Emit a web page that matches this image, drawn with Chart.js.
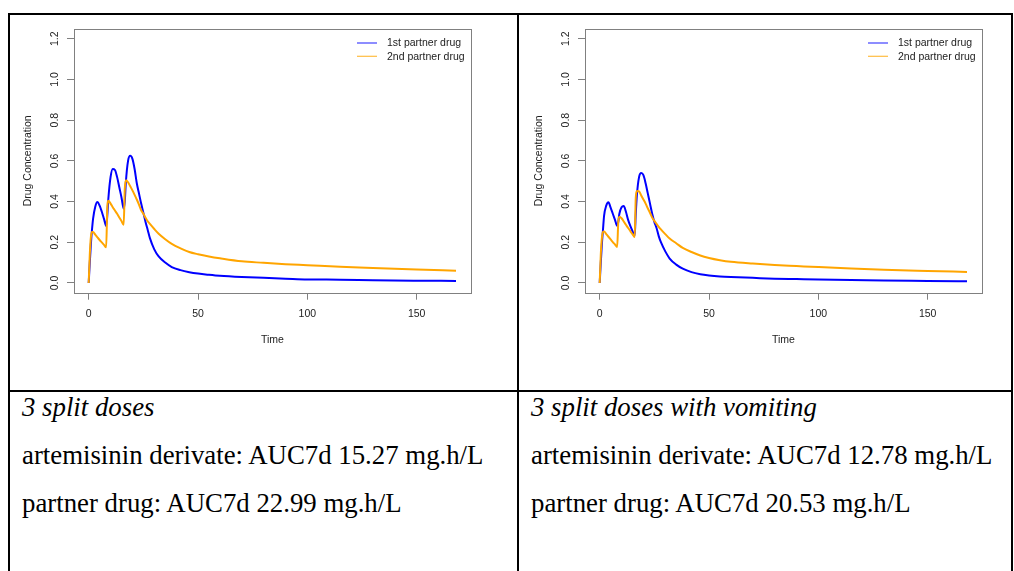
<!DOCTYPE html>
<html><head><meta charset="utf-8">
<script src="https://cdn.jsdelivr.net/npm/chart.js@4.4.0/dist/chart.umd.min.js"></script>
<style>
html,body{margin:0;padding:0;background:#fff;width:1014px;height:571px;overflow:hidden;position:relative;}
.b{position:absolute;background:#000;}
canvas{position:absolute;}
.t{position:absolute;font-family:"Liberation Serif","Times New Roman",serif;font-size:26.8px;line-height:26.8px;color:#000;white-space:nowrap;}
.i{font-style:italic;}
</style></head><body>
<canvas id="c1" width="506" height="375" style="left:10px;top:15px"></canvas>
<canvas id="c2" width="506" height="375" style="left:521px;top:15px"></canvas>
<div class="b" style="left:8px;top:13px;width:1005px;height:2px"></div>
<div class="b" style="left:8px;top:13px;width:2px;height:558px"></div>
<div class="b" style="left:1011px;top:13px;width:2px;height:558px"></div>
<div class="b" style="left:517px;top:13px;width:2px;height:558px"></div>
<div class="b" style="left:8px;top:390px;width:1005px;height:2px"></div>
<div class="t i" id="cap1" style="left:22px;top:394px"></div>
<div class="t" id="l1a" style="left:22px;top:442px"></div>
<div class="t" id="l1b" style="left:22px;top:490px"></div>
<div class="t i" id="cap2" style="left:531px;top:394px"></div>
<div class="t" id="l2a" style="left:531px;top:442px"></div>
<div class="t" id="l2b" style="left:531px;top:490px"></div>
<script>
// ---- data ----
const timeHours = [0,0.5,1,1.5,2,3,4,5,6,7,8,8.5,9,10,11,12,13,14,15,16,16.5,17,18,19,20,21,22,23,24,25,26,27,28,30,32,35,38,42,46,50,55,60,70,80,90,100,115,130,150,168];
const splitFirst = [0,0.10,0.19,0.26,0.315,0.375,0.398,0.38,0.35,0.315,0.28,0.33,0.415,0.52,0.56,0.555,0.52,0.47,0.42,0.365,0.40,0.495,0.60,0.625,0.61,0.56,0.49,0.44,0.39,0.345,0.30,0.26,0.22,0.165,0.13,0.10,0.078,0.063,0.053,0.046,0.04,0.035,0.029,0.025,0.021,0.017,0.016,0.013,0.011,0.010];
const splitSecond = [0,0.14,0.225,0.25,0.25,0.237,0.224,0.211,0.199,0.187,0.175,0.37,0.404,0.39,0.372,0.356,0.34,0.322,0.304,0.286,0.46,0.505,0.495,0.475,0.455,0.433,0.41,0.385,0.357,0.34,0.32,0.303,0.29,0.265,0.242,0.215,0.192,0.17,0.152,0.141,0.13,0.121,0.106,0.099,0.092,0.087,0.079,0.074,0.066,0.060];
const vomitFirst = [0,0.10,0.19,0.26,0.33,0.38,0.396,0.37,0.34,0.31,0.28,0.30,0.34,0.372,0.378,0.35,0.31,0.28,0.255,0.232,0.34,0.43,0.52,0.54,0.53,0.49,0.44,0.39,0.34,0.30,0.27,0.23,0.20,0.155,0.12,0.09,0.07,0.053,0.043,0.037,0.032,0.029,0.025,0.021,0.019,0.017,0.015,0.012,0.010,0.008];
const vomitSecond = [0,0.14,0.22,0.25,0.253,0.24,0.227,0.214,0.201,0.189,0.177,0.30,0.325,0.318,0.302,0.286,0.27,0.255,0.24,0.226,0.42,0.452,0.45,0.43,0.41,0.39,0.367,0.345,0.322,0.305,0.29,0.276,0.263,0.24,0.218,0.195,0.172,0.152,0.135,0.123,0.112,0.104,0.095,0.088,0.083,0.078,0.071,0.065,0.059,0.054];
const seriesLabels = ["1st partner drug","2nd partner drug"];
const seriesColors = ["#0000FF","#FFA500"];
const xTickValues = [0,50,100,150];
const xTickLabels = ["0","50","100","150"];
const yTickValues = [0,0.2,0.4,0.6,0.8,1.0,1.2];
const yTickLabels = ["0.0","0.2","0.4","0.6","0.8","1.0","1.2"];
const xTitle = "Time";
const yTitle = "Drug Concentration";
const captions = ["3 split doses","3 split doses with vomiting"];
const line1 = ["artemisinin derivate: AUC7d 15.27 mg.h/L","artemisinin derivate: AUC7d 12.78 mg.h/L"];
const line2 = ["partner drug: AUC7d 22.99 mg.h/L","partner drug: AUC7d 20.53 mg.h/L"];

document.getElementById('cap1').textContent = captions[0];
document.getElementById('cap2').textContent = captions[1];
document.getElementById('l1a').textContent = line1[0];
document.getElementById('l2a').textContent = line1[1];
document.getElementById('l1b').textContent = line2[0];
document.getElementById('l2b').textContent = line2[1];

const FONT = '"Liberation Sans", Arial, sans-serif';
const TXT = '#222';
const AXC = '#808080';

const boxPlugin = {id:'rbox', afterDatasetsDraw(chart){
  const a = chart.chartArea, ctx = chart.ctx;
  ctx.save(); ctx.strokeStyle = AXC; ctx.lineWidth = 1;
  ctx.strokeRect(Math.round(a.left)+0.5, Math.round(a.top)+0.5, Math.round(a.right)-Math.round(a.left), Math.round(a.bottom)-Math.round(a.top));
  ctx.restore();
}};
const yLabelPlugin = {id:'ylab', afterDraw(chart){
  const s = chart.scales.y, ctx = chart.ctx;
  ctx.save(); ctx.font = '10.5px ' + FONT; ctx.fillStyle = TXT; ctx.textAlign = 'center'; ctx.textBaseline = 'middle';
  s.ticks.forEach((t,i)=>{
    const y = s.getPixelForValue(t.value);
    ctx.save(); ctx.translate(chart.chartArea.left - 19, y); ctx.rotate(-Math.PI/2);
    ctx.fillText(yTickLabels[i], 0, 0); ctx.restore();
  });
  ctx.restore();
}};
const legendPlugin = {id:'rleg', afterDraw(chart){
  const a = chart.chartArea, ctx = chart.ctx;
  ctx.save(); ctx.font = '10.5px ' + FONT; ctx.textBaseline = 'middle'; ctx.textAlign = 'left';
  chart.data.datasets.forEach((ds,i)=>{
    const y = a.top + 14 + i*13.3;
    ctx.strokeStyle = ds.borderColor; ctx.globalAlpha = 0.75; ctx.lineWidth = 1.2;
    ctx.beginPath(); ctx.moveTo(a.right-113.7, y); ctx.lineTo(a.right-93.7, y); ctx.stroke();
    ctx.globalAlpha = 1;
    ctx.fillStyle = TXT; ctx.fillText(ds.label, a.right-83.7, y+0.5);
  });
  ctx.restore();
}};

function pts(arr){ return timeHours.map((t,i)=>({x:t, y:arr[i]})); }

function makeChart(id, first, second){
  return new Chart(document.getElementById(id), {
    type:'line',
    data:{datasets:[
      {label:seriesLabels[0], data:pts(first), borderColor:seriesColors[0], borderWidth:2, pointRadius:0, cubicInterpolationMode:'monotone', fill:false, order:1},
      {label:seriesLabels[1], data:pts(second), borderColor:seriesColors[1], borderWidth:2, pointRadius:0, cubicInterpolationMode:'monotone', fill:false, order:0}
    ]},
    options:{
      responsive:false, animation:false, devicePixelRatio:1,
      layout:{padding:{left:0, top:14, right:45.3, bottom:0}},
      plugins:{legend:{display:false}, tooltip:{enabled:false}},
      scales:{
        x:{type:'linear', min:-6.72, max:174.72,
          afterBuildTicks:s=>{ s.ticks = xTickValues.map(v=>({value:v})); },
          afterFit:s=>{ s.height = 97.3; },
          grid:{display:true, drawOnChartArea:false, drawTicks:true, tickLength:7, color:AXC},
          border:{display:false},
          ticks:{font:{family:FONT, size:10.5}, color:TXT, padding:8, maxRotation:0, autoSkip:false,
            callback:(v,i)=>xTickLabels[i]},
          title:{display:true, text:xTitle, font:{family:FONT, size:10.5}, color:TXT, padding:{top:0, bottom:43.2}}
        },
        y:{type:'linear', min:-0.048, max:1.248,
          afterBuildTicks:s=>{ s.ticks = yTickValues.map(v=>({value:v})); },
          afterFit:s=>{ s.width = 64; },
          grid:{display:true, drawOnChartArea:false, drawTicks:true, tickLength:7, color:AXC},
          border:{display:false},
          ticks:{display:false},
          title:{display:true, text:yTitle, font:{family:FONT, size:10.5}, color:TXT, padding:{top:11.7, bottom:0}}
        }
      }
    },
    plugins:[boxPlugin, yLabelPlugin, legendPlugin]
  });
}
makeChart('c1', splitFirst, splitSecond);
makeChart('c2', vomitFirst, vomitSecond);
</script>
</body></html>
